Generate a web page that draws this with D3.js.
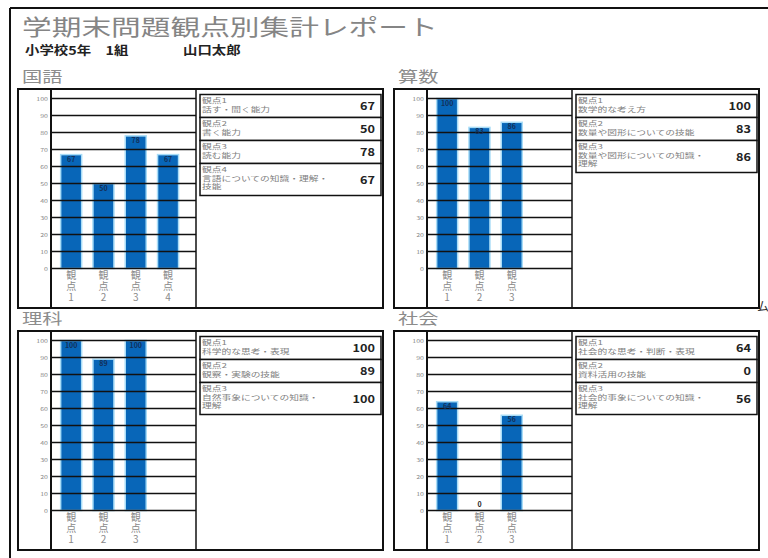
<!DOCTYPE html>
<html>
<head>
<meta charset="utf-8">
<script src="https://d3js.org/d3.v7.min.js"></script>
<style>
  body { margin: 0; background: #fff; }
  text { font-family: "Noto Sans CJK JP", "Noto Sans", sans-serif; }
</style>
</head>
<body>
<div id="area"></div>
<script>
// data
var title = "学期末問題観点別集計レポート";
var className = "小学校5年　1組";
var studentName = "山口太郎";
var subjects = ["国語", "算数", "理科", "社会"];
var xLabels = ["観点1", "観点2", "観点3", "観点4"];
var yTicks = [0, 10, 20, 30, 40, 50, 60, 70, 80, 90, 100];

var kokugoScores = [67, 50, 78, 67];
var kokugoItems = ["話す・聞く能力", "書く能力", "読む能力", "言語についての知識・理解・技能"];
var sansuScores = [100, 83, 86];
var sansuItems = ["数学的な考え方", "数量や図形についての技能", "数量や図形についての知識・理解"];
var rikaScores = [100, 89, 100];
var rikaItems = ["科学的な思考・表現", "観察・実験の技能", "自然事象についての知識・理解"];
var shakaiScores = [64, 0, 56];
var shakaiItems = ["社会的な思考・判断・表現", "資料活用の技能", "社会的事象についての知識・理解"];

var scoreSets = [kokugoScores, sansuScores, rikaScores, shakaiScores];
var itemSets = [kokugoItems, sansuItems, rikaItems, shakaiItems];

var w = 768, h = 558;
var svg = d3.select("#area").append("svg").attr("width", w).attr("height", h);

// stretched text helper (the report is drawn wide)
function stext(g, x, y, str, size, sx) {
    return g.append("text")
        .attr("transform", "translate(" + x + "," + y + ") scale(" + sx + ",1)")
        .style("font-size", size + "px")
        .text(str);
}

// outer frame
svg.append("line").attr("x1", 10).attr("x2", w).attr("y1", 8).attr("y2", 8)
    .style("stroke", "#111").style("stroke-width", 2);
svg.append("line").attr("x1", 10).attr("x2", 10).attr("y1", 8).attr("y2", h)
    .style("stroke", "#111").style("stroke-width", 2);

stext(svg, 22, 35, title, 22, 1.35).style("fill", "#858585");
stext(svg, 25, 55, className, 12, 1.2).style("font-weight", "bold").style("fill", "#222");
stext(svg, 183, 55, studentName, 12, 1.2).style("font-weight", "bold").style("fill", "#222");
stext(svg, 757, 311, "ム", 12, 1).style("fill", "#333");

var panelPos = [[18, 89], [394, 89], [18, 331], [394, 331]];

subjects.forEach(function(name, k) {
    var px = panelPos[k][0], py = panelPos[k][1];
    var scores = scoreSets[k], items = itemSets[k];
    var axisX = px + 33, divX = px + 178, boxR = px + 365, boxB = py + 219;
    var g = svg.append("g");

    stext(g, px + 4, py - 7, name, 15, 1.35).style("fill", "#8c8c8c");

    var yScale = d3.scaleLinear().domain([0, 100]).range([py + 179.5, py + 9.5]);
    var xScale = d3.scaleBand().domain(xLabels).range([axisX + 4, axisX + 4 + 129.2])
        .paddingInner(0.35).paddingOuter(0.175);

    // bars
    g.selectAll(".bar").data(scores).enter().append("rect")
        .attr("x", function(d, i) { return xScale(xLabels[i]); })
        .attr("y", function(d) { return yScale(d); })
        .attr("width", xScale.bandwidth())
        .attr("height", function(d) { return yScale(0) - yScale(d); })
        .style("fill", "#0866b8")
        .style("stroke", function(d) { return d > 0 ? "#a8dcf7" : "none"; })
        .style("stroke-width", 1.5);

    // grid lines
    g.selectAll(".grid").data(yTicks).enter().append("line")
        .attr("x1", axisX).attr("x2", divX)
        .attr("y1", function(d) { return yScale(d); })
        .attr("y2", function(d) { return yScale(d); })
        .style("stroke", "#111").style("stroke-width", 1.3);

    g.selectAll(".ytick").data(yTicks).enter().append("text")
        .attr("transform", function(d) { return "translate(" + (axisX - 3) + "," + (yScale(d) + 2) + ") scale(1.4,1)"; })
        .attr("text-anchor", "end")
        .style("font-size", "5px").style("fill", "#888")
        .text(function(d) { return d; });

    // value labels
    g.selectAll(".val").data(scores).enter().append("text")
        .attr("x", function(d, i) { return xScale(xLabels[i]) + xScale.bandwidth() / 2; })
        .attr("y", function(d) { return d > 8 ? yScale(d) + 7 : yScale(d) - 4; })
        .attr("text-anchor", "middle")
        .style("font-size", "7px").style("font-weight", "bold")
        .style("fill", function(d) { return d > 8 ? "#13305a" : "#222"; })
        .text(function(d) { return d; });

    // vertical category labels (written top to bottom)
    g.selectAll(".xlab").data(scores).enter().append("text")
        .attr("x", function(d, i) { return xScale(xLabels[i]) + xScale.bandwidth() / 2; })
        .attr("y", yScale(0) + 2)
        .style("writing-mode", "vertical-rl")
        .style("text-orientation", "upright")
        .style("letter-spacing", "1px")
        .style("font-size", "10px").style("fill", "#8a8a8a")
        .text(function(d, i) { return xLabels[i]; });

    // frame lines
    g.append("rect").attr("x", px).attr("y", py).attr("width", boxR - px).attr("height", boxB - py)
        .style("fill", "none").style("stroke", "#111").style("stroke-width", 2);
    g.append("line").attr("x1", axisX).attr("x2", axisX).attr("y1", py).attr("y2", boxB)
        .style("stroke", "#111").style("stroke-width", 2);
    g.append("line").attr("x1", divX).attr("x2", divX).attr("y1", py).attr("y2", boxB)
        .style("stroke", "#111").style("stroke-width", 1.5);

    // score table
    var ty = py + 5.5, tl = divX + 4, tr = boxR - 2;
    items.forEach(function(it, i) {
        var lines = [it];
        if (it.length > 12) {
            var cut = it.lastIndexOf("・") + 1;
            lines = [it.slice(0, cut), it.slice(cut)];
        }
        var rh = 23 + 9 * (lines.length - 1);
        g.append("rect").attr("x", tl).attr("y", ty).attr("width", tr - tl).attr("height", rh)
            .style("fill", "#fff").style("stroke", "#111").style("stroke-width", 1.5);
        stext(g, tl + 2, ty + 8, xLabels[i], 6.5, 1.5).style("fill", "#808080");
        lines.forEach(function(ln, j) {
            stext(g, tl + 2, ty + 17 + j * 8, ln, 6.5, 1.5).style("fill", "#808080");
        });
        g.append("text")
            .attr("transform", "translate(" + (tr - 6) + "," + (ty + rh / 2 + 4) + ") scale(1.15,1)")
            .attr("text-anchor", "end")
            .style("font-size", "11px").style("font-weight", "600").style("fill", "#222")
            .text(scores[i]);
        ty += rh;
    });
});
</script>
</body>
</html>
